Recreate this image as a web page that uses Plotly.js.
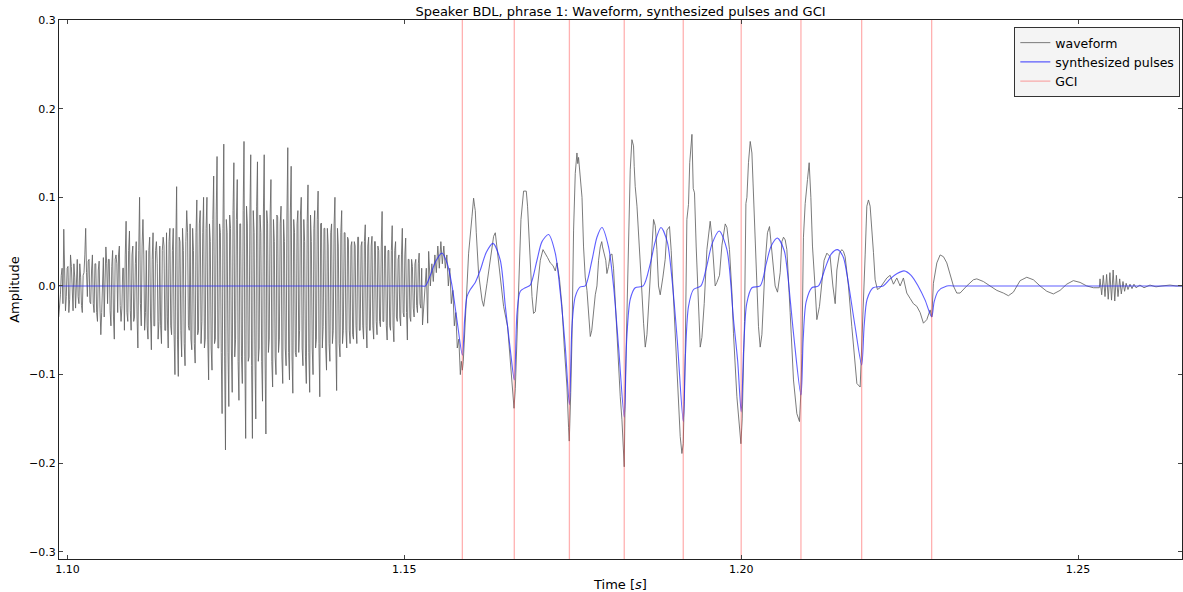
<!DOCTYPE html>
<html>
<head>
<meta charset="utf-8">
<script src="https://cdn.plot.ly/plotly-3.0.1.min.js"></script>
<style>html,body{margin:0;padding:0;background:#fff;}#chart{width:1183px;height:592px;}</style>
</head>
<body>
<div id="chart"></div>
<script>
// ---- Data ----
// Unvoiced/noisy part of the waveform, one value per 0.125 ms from 1.0987 s
const waveNoiseStart = 1.0987;
const waveNoiseStep = 0.000125;
const waveNoise = [
 -0.035,-0.025,-0.010,0.012,0.020,-0.020,0.064,0.018,-0.028,-0.012,0.020,0.022,-0.030,-0.015,0.035,0.022,-0.015,-0.028,0.025,0.010,
 -0.025,0.020,0.030,-0.012,-0.020,0.025,0.010,-0.022,-0.030,0.012,0.015,0.035,0.065,0.015,-0.012,0.028,0.030,-0.018,-0.020,0.018,
 0.035,-0.020,-0.030,0.025,0.025,-0.030,-0.040,0.018,0.028,-0.025,-0.055,-0.030,0.015,0.032,-0.035,0.020,0.044,0.025,-0.020,0.030,
 0.030,-0.028,-0.045,0.022,0.040,-0.035,-0.060,0.030,0.035,0.025,-0.030,0.035,0.045,-0.022,-0.040,-0.025,0.020,0.020,-0.050,0.035,
 0.073,-0.030,-0.040,0.040,0.062,-0.028,-0.050,0.035,0.045,-0.040,-0.035,0.025,0.050,-0.035,-0.070,0.040,0.100,-0.020,-0.045,0.045,
 0.075,0.035,-0.050,-0.030,0.040,-0.045,-0.060,0.040,0.055,-0.035,-0.072,0.030,0.060,-0.045,-0.045,0.040,0.050,0.025,-0.060,-0.040,
 0.045,-0.045,-0.065,0.040,0.055,0.045,-0.050,-0.050,0.060,-0.035,-0.070,0.050,0.065,-0.045,-0.055,0.040,0.065,-0.055,-0.100,0.045,
 0.112,-0.060,-0.102,0.055,0.050,-0.050,-0.080,0.065,0.040,-0.065,-0.090,0.050,0.085,0.060,-0.045,-0.050,0.070,-0.060,-0.072,0.065,
 0.040,-0.065,-0.087,0.060,0.097,-0.055,-0.050,0.070,0.085,-0.065,-0.040,0.060,0.100,-0.070,-0.060,0.065,0.100,-0.060,-0.106,0.070,
 0.050,-0.070,-0.095,0.075,0.124,-0.065,-0.060,0.080,0.146,-0.070,-0.070,0.070,0.060,-0.075,-0.144,0.065,0.160,-0.080,-0.185,0.075,
 0.060,-0.075,-0.136,0.080,0.065,-0.070,-0.120,0.085,0.139,-0.080,-0.060,0.075,0.120,-0.085,-0.129,0.070,0.070,-0.080,-0.110,0.085,
 0.163,-0.080,-0.172,0.090,0.070,-0.085,-0.080,0.080,0.148,-0.090,-0.172,0.085,0.060,-0.080,-0.150,0.090,0.140,-0.085,-0.070,0.080,
 0.060,-0.085,-0.130,0.080,0.148,-0.080,-0.167,0.085,0.070,-0.075,-0.060,0.080,0.120,-0.085,-0.114,0.075,0.050,-0.080,-0.100,0.080,
 0.078,-0.075,-0.060,0.070,0.090,-0.080,-0.110,0.075,0.050,-0.070,-0.090,0.080,0.156,-0.075,-0.106,0.080,0.135,-0.080,-0.121,0.075,
 0.060,-0.075,-0.080,0.070,0.085,-0.075,-0.050,0.080,0.100,-0.070,-0.090,0.075,0.050,-0.080,-0.110,0.070,0.114,-0.075,-0.120,0.080,
 0.050,-0.070,-0.100,0.065,0.085,-0.070,-0.060,0.075,0.107,-0.065,-0.125,0.070,0.071,-0.070,-0.046,0.065,0.065,-0.070,-0.095,0.065,
 0.045,-0.065,-0.085,0.060,0.070,-0.065,-0.050,0.070,0.100,-0.060,-0.118,0.065,0.045,-0.065,-0.080,0.060,0.085,-0.065,-0.050,0.060,
 0.060,-0.050,-0.070,0.055,0.052,-0.050,-0.065,0.045,0.050,-0.055,-0.060,0.050,0.045,-0.045,-0.065,0.055,0.055,-0.050,-0.050,0.045,
 0.050,-0.045,-0.060,0.050,0.069,-0.045,-0.070,0.045,0.055,-0.050,-0.050,0.045,0.056,-0.045,-0.060,0.050,0.050,-0.040,-0.055,0.045,
 0.040,-0.040,-0.046,0.045,0.084,-0.040,-0.040,0.045,0.045,-0.045,-0.061,0.040,0.040,-0.045,-0.050,0.040,0.068,-0.045,-0.063,0.040,
 0.050,-0.035,-0.040,0.030,0.035,-0.035,-0.045,0.035,0.065,-0.030,-0.035,0.035,0.054,-0.030,-0.061,0.030,0.030,-0.035,-0.040,0.030,
 0.022,-0.025,-0.035,0.025,0.030,-0.022,-0.030,0.025,0.037,-0.020,-0.025,0.020,-0.044
];
// Voiced part and tail of the waveform (time [s], amplitude)
const waveTimes = [
 1.15326,1.15346,1.15361,1.15386,1.15408,1.15430,1.15453,1.15475,1.15497,1.15519,
 1.15542,1.15564,1.15586,1.15608,1.15631,1.15653,1.15675,1.15697,1.15720,1.15742,
 1.15764,1.15786,1.15809,1.15831,1.15846,1.15861,1.15875,1.15905,1.15954,1.16004,
 1.16028,1.16043,1.16053,1.16068,1.16102,1.16153,1.16177,1.16227,1.16276,1.16325,
 1.16350,1.16384,1.16424,1.16473,1.16533,1.16573,1.16613,1.16628,1.16647,1.16672,
 1.16696,1.16731,1.16770,1.16810,1.16829,1.16859,1.16895,1.16918,1.16944,1.16978,
 1.17018,1.17058,1.17092,1.17126,1.17166,1.17206,1.17240,1.17266,1.17304,1.17340,
 1.17374,1.17414,1.17438,1.17448,1.17470,1.17488,1.17512,1.17537,1.17562,1.17574,
 1.17586,1.17611,1.17637,1.17660,1.17685,1.17711,1.17735,1.17760,1.17782,1.17809,
 1.17834,1.17859,1.17883,1.17908,1.17930,1.17942,1.17967,1.17990,1.18007,1.18031,
 1.18056,1.18082,1.18105,1.18131,1.18156,1.18180,1.18205,1.18230,1.18249,1.18264,
 1.18279,1.18304,1.18328,1.18353,1.18378,1.18402,1.18412,1.18427,1.18453,1.18476,
 1.18502,1.18527,1.18551,1.18576,1.18601,1.18625,1.18650,1.18675,1.18699,1.18724,
 1.18749,1.18773,1.18798,1.18838,1.18872,1.18898,1.18936,1.18961,1.18996,1.19021,
 1.19046,1.19070,1.19095,1.19120,1.19140,1.19154,1.19169,1.19194,1.19218,1.19236,
 1.19269,1.19288,1.19307,1.19332,1.19366,1.19392,1.19417,1.19451,1.19491,1.19540,
 1.19565,1.19589,1.19614,1.19639,1.19678,1.19714,1.19763,1.19788,1.19826,1.19862,
 1.19886,1.19936,1.19975,1.19996,1.20015,1.20034,1.20049,1.20070,1.20085,1.20108,
 1.20134,1.20159,1.20174,1.20193,1.20223,1.20257,1.20282,1.20307,1.20356,1.20390,
 1.20420,1.20456,1.20504,1.20539,1.20579,1.20604,1.20628,1.20653,1.20678,1.20727,
 1.20776,1.20826,1.20865,1.20886,1.20901,1.20924,1.20950,1.20984,1.21009,1.21034,
 1.21058,1.21098,1.21123,1.21162,1.21197,1.21231,1.21272,1.21320,1.21361,1.21395,
 1.21420,1.21458,1.21494,1.21518,1.21543,1.21592,1.21642,1.21677,1.21717,1.21766,
 1.21791,1.21815,1.21840,1.21865,1.21889,1.21914,1.21939,1.21963,1.21988,1.22022,
 1.22062,1.22111,1.22162,1.22211,1.22260,1.22310,1.22359,1.22408,1.22458,1.22507,
 1.22556,1.22607,1.22656,1.22705,1.22755,1.22804,1.22829,1.22853,1.22904,1.22953,
 1.23002,1.23052,1.23101,1.23150,1.23200,1.23249,1.23348,1.23447,1.23497,1.23595,
 1.23694,1.23794,1.23892,1.23966,1.24040,1.24140,1.24239,1.24337,1.24436,1.24536,
 1.24634,1.24733,1.24832,1.24930,1.25030,1.25129,1.25227,1.25316,1.25326,1.25351,
 1.25375,1.25400,1.25424,1.25448,1.25473,1.25497,1.25521,1.25545,1.25569,1.25593,
 1.25618,1.25642,1.25667,1.25691,1.25714,1.25741,1.25771,1.25801,1.25830,1.25860,
 1.25919,1.25979,1.26068,1.26157,1.26246,1.26365,1.26454,1.26558
];
const waveValues = [
 0.020,-0.042,0.039,0.000,0.025,0.005,0.035,0.015,0.045,0.020,
 0.050,0.025,0.045,0.020,0.035,0.000,0.020,-0.020,-0.005,-0.045,
 -0.030,-0.070,-0.060,-0.100,-0.085,-0.095,-0.085,-0.038,0.037,0.078,
 0.099,0.090,0.085,0.060,0.014,-0.016,-0.023,0.003,0.028,0.056,
 0.060,0.035,0.009,-0.023,-0.046,-0.084,-0.125,-0.138,-0.116,-0.060,
 0.009,0.075,0.107,0.107,0.090,0.037,-0.012,-0.031,-0.029,0.000,
 0.029,0.041,0.037,0.032,0.026,0.023,0.017,0.026,0.007,-0.023,
 -0.069,-0.114,-0.160,-0.175,-0.120,-0.060,0.063,0.127,0.150,0.138,
 0.145,0.125,0.100,0.044,0.010,-0.005,-0.038,-0.057,-0.050,-0.027,
 -0.010,0.000,0.029,0.044,0.050,0.044,0.035,0.029,0.014,0.022,
 0.035,0.036,0.020,-0.020,-0.050,-0.091,-0.125,-0.151,-0.190,-0.204,
 -0.114,-0.038,0.063,0.131,0.165,0.158,0.135,0.112,0.090,0.063,
 0.030,-0.008,-0.042,-0.069,-0.055,-0.020,0.014,0.048,0.075,0.068,
 0.041,0.000,-0.010,0.010,0.030,0.063,0.067,0.040,-0.014,-0.055,
 -0.100,-0.140,-0.170,-0.189,-0.178,-0.130,-0.076,0.075,0.092,0.139,
 0.171,0.110,0.105,0.044,-0.023,-0.069,-0.058,-0.020,0.041,0.073,
 0.055,0.025,0.000,0.004,0.012,0.046,0.070,0.066,0.041,-0.007,
 -0.054,-0.125,-0.166,-0.178,-0.150,-0.095,-0.040,0.093,0.100,0.139,
 0.163,0.150,0.120,0.070,0.012,-0.046,-0.069,-0.055,0.026,0.060,
 0.067,0.037,0.000,-0.007,0.015,0.050,0.055,0.052,0.041,-0.030,
 -0.106,-0.144,-0.153,-0.120,-0.076,0.055,0.093,0.120,0.139,0.100,
 0.045,-0.003,-0.038,-0.023,0.000,0.029,0.037,0.033,0.000,-0.020,
 0.018,0.037,0.041,0.039,0.033,0.000,-0.046,-0.080,-0.110,-0.114,
 -0.070,-0.020,0.035,0.090,0.097,0.090,0.068,0.038,0.007,-0.004,
 -0.002,0.003,0.009,0.012,0.002,0.009,0.000,0.009,-0.008,-0.014,
 -0.020,-0.023,-0.030,-0.042,-0.038,-0.027,-0.035,0.003,0.026,0.035,
 0.033,0.026,0.012,0.000,-0.008,-0.008,0.000,0.007,0.008,0.005,
 0.000,-0.005,-0.008,-0.011,-0.007,0.006,0.0098,0.007,0.000,-0.006,
 -0.009,-0.005,0.002,0.006,0.004,0.000,-0.002,-0.002,0.008,-0.010,
 0.012,-0.012,0.013,-0.015,0.015,-0.016,0.018,-0.017,0.012,-0.012,
 0.008,-0.009,0.005,-0.006,0.003,-0.004,0.002,-0.003,0.002,-0.002,
 0.001,-0.002,0.001,-0.001,0.000,0.001,0.000,0.000
];
// Synthesized glottal pulses (time [s], amplitude)
const pulseTimes = [
 1.09874,1.15250,1.15312,1.15386,1.15460,1.15559,1.15638,1.15708,1.15782,1.15861,1.15895,
 1.15930,1.15979,1.16053,1.16128,1.16217,1.16316,1.16424,1.16499,1.16573,1.16632,
 1.16672,1.16721,1.16795,1.16869,1.16969,1.17043,1.17141,1.17240,1.17315,1.17389,
 1.17450,1.17488,1.17537,1.17611,1.17685,1.17785,1.17859,1.17933,1.18031,1.18105,
 1.18180,1.18264,1.18301,1.18353,1.18427,1.18546,1.18650,1.18724,1.18809,1.18902,
 1.18976,1.19050,1.19140,1.19174,1.19218,1.19292,1.19402,1.19481,1.19570,1.19674,
 1.19788,1.19886,1.19948,1.20000,1.20037,1.20082,1.20159,1.20282,1.20371,1.20445,
 1.20539,1.20638,1.20683,1.20776,1.20887,1.20920,1.20964,1.21049,1.21147,1.21246,
 1.21335,1.21429,1.21513,1.21568,1.21691,1.21788,1.21825,1.21869,1.21958,1.22107,
 1.22211,1.22315,1.22418,1.22522,1.22626,1.22730,1.22827,1.22864,1.22923,1.23052,
 1.23150,1.26558
];
const pulseValues = [
 0.000,0.000,0.000,0.012,0.027,0.037,0.025,0.000,-0.039,-0.078,-0.038,
 -0.012,-0.004,0.004,0.018,0.038,0.048,0.029,-0.023,-0.072,-0.106,
 -0.031,-0.006,-0.002,0.001,0.029,0.050,0.058,0.037,-0.008,-0.069,
 -0.134,-0.046,-0.012,-0.001,0.000,0.029,0.055,0.066,0.044,0.000,
 -0.069,-0.148,-0.060,-0.015,-0.002,0.000,0.025,0.050,0.066,0.050,
 0.005,-0.060,-0.153,-0.075,-0.023,-0.004,0.000,0.020,0.048,0.062,
 0.041,-0.038,-0.085,-0.142,-0.070,-0.020,-0.002,0.000,0.025,0.045,
 0.054,0.040,0.018,-0.053,-0.123,-0.060,-0.018,-0.002,0.000,0.020,
 0.036,0.041,0.033,0.014,-0.046,-0.089,-0.045,-0.015,-0.002,0.000,
 0.008,0.014,0.017,0.012,0.000,-0.016,-0.035,-0.018,-0.006,0.000,
 0.000,0.000
];
// Glottal closure instants [s]
const gciTimes = [1.15861,1.16632,1.17450,1.18264,1.19140,1.20000,1.20887,1.21788,1.22827];

// Axes
const xRange = [1.09874, 1.26543];
const yRange = [-0.308, 0.300];
const xTicks = [1.10, 1.15, 1.20, 1.25];
const yTicks = [-0.3, -0.2, -0.1, 0.0, 0.1, 0.2, 0.3];

// ---- Build traces ----
const waveX = waveNoise.map((v, i) => waveNoiseStart + i * waveNoiseStep).concat(waveTimes);
const waveY = waveNoise.concat(waveValues);

const gciX = [], gciY = [];
gciTimes.forEach(t => { gciX.push(t, t, null); gciY.push(yRange[0], yRange[1], null); });

const FONT = 'DejaVu Sans, Bitstream Vera Sans, sans-serif';

const traces = [
  {x: waveX, y: waveY, mode: 'lines', name: 'waveform',
   line: {color: 'rgba(100,100,100,0.85)', width: 1}},
  {x: pulseTimes, y: pulseValues, mode: 'lines', name: 'synthesized pulses',
   line: {color: 'rgba(40,40,255,0.75)', width: 1.1, shape: 'spline', smoothing: 0.8}},
  {x: gciX, y: gciY, mode: 'lines', name: 'GCI',
   line: {color: 'rgba(255,70,70,0.42)', width: 1.3}}
];

const axisCommon = {
  showline: true, linecolor: '#222', linewidth: 1, mirror: 'ticks',
  ticks: 'inside', ticklen: 4, tickwidth: 1, tickcolor: '#444',
  showgrid: false, zeroline: false,
  tickfont: {family: FONT, size: 11, color: '#000'}
};

const layout = {
  width: 1183, height: 592,
  margin: {l: 59, r: 1, t: 20, b: 33},
  paper_bgcolor: '#fff', plot_bgcolor: '#fff',
  font: {family: FONT, color: '#000'},
  title: {text: 'Speaker BDL, phrase 1: Waveform, synthesized pulses and GCI',
          font: {family: FONT, size: 13, color: '#000'},
          x: 0.5245, xanchor: 'center', y: 0.981, yanchor: 'middle', yref: 'container'},
  xaxis: Object.assign({}, axisCommon, {
    range: xRange, tickvals: xTicks, tickformat: '.2f',
    title: {text: 'Time [<i>s</i>]', font: {family: FONT, size: 13, color: '#000'}, standoff: 4}
  }),
  yaxis: Object.assign({}, axisCommon, {
    range: yRange, tickvals: yTicks, tickformat: '.1f',
    title: {text: 'Amplitude', font: {family: FONT, size: 13, color: '#000'}, standoff: 6}
  }),
  showlegend: true,
  legend: {x: 0.9985, xanchor: 'right', y: 0.987, yanchor: 'top',
           bgcolor: '#f4f4f4', bordercolor: '#333', borderwidth: 1,
           font: {family: FONT, size: 12.5, color: '#000'},
           tracegroupgap: 0, itemwidth: 30}
};

Plotly.newPlot('chart', traces, layout, {staticPlot: true, displayModeBar: false});
</script>
</body>
</html>
